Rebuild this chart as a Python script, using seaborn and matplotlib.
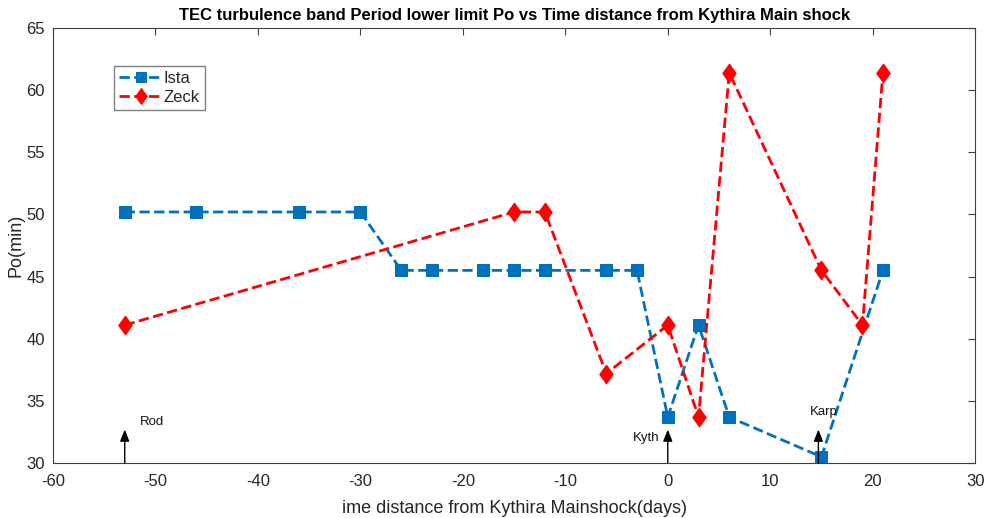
import numpy as np
import pandas as pd
import matplotlib
matplotlib.use("Agg")
import matplotlib.pyplot as plt
import seaborn as sns

# station data
ista_days = [-53, -46, -36, -30, -26, -23, -18, -15, -12, -6, -3, 0, 3, 6, 15, 21]
ista_po = [50.2, 50.2, 50.2, 50.2, 45.5, 45.5, 45.5, 45.5, 45.5, 45.5, 45.5, 33.7, 41.1, 33.7, 30.5, 45.5]

zeck_days = [-53, -15, -12, -6, 0, 3, 6, 15, 19, 21]
zeck_po = [41.1, 50.2, 50.2, 37.2, 41.1, 33.7, 61.4, 45.5, 41.1, 61.4]

# earthquake markers (name, day, label x, label y, alignment)
quake_names = ["Rod", "Kyth", "Karp"]
quake_days = [-53, 0, 14.7]
quake_label_x = [-51.5, -0.8, 15.2]
quake_label_y = [33.3, 32.0, 34.1]
quake_label_ha = ["left", "right", "center"]

sns.set_style("white")
plt.rcParams['font.family'] = ['Arial', 'Liberation Sans', 'DejaVu Sans']
plt.rcParams['axes.unicode_minus'] = False

fig = plt.figure(figsize=(9.87, 5.18), dpi=100)
ax = fig.add_axes([0.0537, 0.106, 0.9343, 0.84])

blue = "#0072BD"
red = "#FF0000"
# matlab-like diamond, a bit taller than wide
diamond = [(0, 1), (0.72, 0), (0, -1), (-0.72, 0), (0, 1)]

sns.lineplot(x=ista_days, y=ista_po, ax=ax, color=blue, linestyle="--", linewidth=2,
             marker="s", markersize=8, markeredgecolor=blue, sort=False,
             estimator=None, label="Ista")
sns.lineplot(x=zeck_days, y=zeck_po, ax=ax, color=red, linestyle="--", linewidth=2,
             marker=diamond, markersize=13.5, markeredgecolor=red, sort=False,
             estimator=None, label="Zeck")

for name, d, lx, ly, ha in zip(quake_names, quake_days, quake_label_x, quake_label_y, quake_label_ha):
    ax.annotate("", xy=(d, 32.7), xytext=(d, 30),
                arrowprops=dict(arrowstyle="-|>,head_length=0.5,head_width=0.2",
                                color="black", lw=1, mutation_scale=14,
                                shrinkA=0, shrinkB=0))
    ax.text(lx, ly, name, ha=ha, va="center", fontsize=9.5, color="#111111")

ax.set_xlim(-60, 30)
ax.set_ylim(30, 65)
ax.set_xticks(np.arange(-60, 31, 10))
ax.set_yticks(np.arange(30, 66, 5))
ax.tick_params(direction="in", length=5, width=0.8, colors="#404040",
               labelsize=12, labelcolor="#262626", top=True, right=True,
               labeltop=False, labelright=False)
ax.tick_params(axis="x", pad=8)
ax.tick_params(axis="y", pad=6)
for s in ax.spines.values():
    s.set_color("#404040")
    s.set_linewidth(0.8)

ax.set_xlabel("ime distance from Kythira Mainshock(days)", fontsize=13, color="#262626", labelpad=8)
ax.set_ylabel("Po(min)", fontsize=13, color="#262626", labelpad=1)
ax.set_title("TEC turbulence band Period lower limit Po vs Time distance from Kythira Main shock",
             fontsize=12, fontweight="bold", color="black", pad=6)

leg = ax.legend(loc="upper left", bbox_to_anchor=(0.066, 0.913), fontsize=12,
                handlelength=2.6, handletextpad=0.1, borderpad=0.3,
                labelspacing=0.25, fancybox=False, framealpha=1,
                edgecolor="#808080", borderaxespad=0, markerscale=0.85)
leg.get_frame().set_linewidth(1)

fig.savefig("out.png", dpi=100)
